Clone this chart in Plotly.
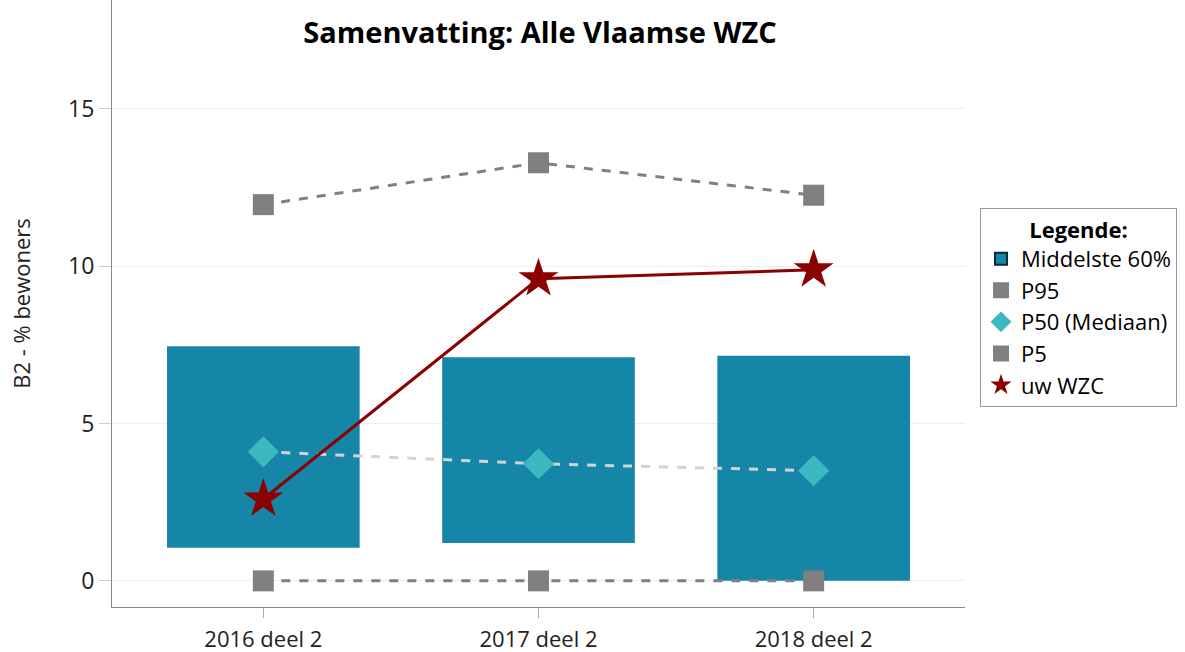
import plotly.graph_objects as go

periods = ["2016 deel 2", "2017 deel 2", "2018 deel 2"]
p5 = [0.0, 0.0, 0.0]
p20 = [1.05, 1.2, 0.0]
p80 = [7.45, 7.1, 7.15]
p50 = [4.1, 3.72, 3.5]
p95 = [11.95, 13.28, 12.25]
wzc = [2.6, 9.6, 9.88]

FONT = "Open Sans"
GREY = "#808080"
BLUE = "#1585a8"
TEAL = "#3bb8c0"
RED = "#8b0000"

fig = go.Figure()

# floating bars for the middle 60% (P20 - P80)
fig.add_trace(
    go.Bar(
        x=periods,
        y=[t - b for t, b in zip(p80, p20)],
        base=p20,
        width=0.7,
        marker=dict(color=BLUE, line_width=0),
        showlegend=False,
        hoverinfo="skip",
    )
)
# legend entry only (dark outline as in the original legend)
fig.add_trace(
    go.Bar(
        x=[periods[0]],
        y=[None],
        name="Middelste 60%",
        marker=dict(color=BLUE, line=dict(color="#0a2a3a", width=2)),
    )
)


def add_series(values, name, color, symbol, size, line):
    # line without legend, markers with legend
    fig.add_trace(
        go.Scatter(
            x=periods,
            y=values,
            mode="lines",
            line=line,
            showlegend=False,
            hoverinfo="skip",
        )
    )
    fig.add_trace(
        go.Scatter(
            x=periods,
            y=values,
            name=name,
            mode="markers",
            marker=dict(symbol=symbol, size=size, color=color),
        )
    )


add_series(p95, "P95", GREY, "square", 21, dict(color=GREY, width=3, dash="dash"))
add_series(p50, "P50 (Mediaan)", TEAL, "diamond", 24,
           dict(color="#d3d3d3", width=3, dash="dash"))
add_series(p5, "P5", GREY, "square", 21, dict(color=GREY, width=3, dash="dash"))
add_series(wzc, "uw WZC", RED, "star", 30, dict(color=RED, width=3))

fig.update_layout(
    width=1185,
    height=652,
    paper_bgcolor="white",
    plot_bgcolor="white",
    font=dict(family=FONT, size=22, color="#222222"),
    margin=dict(l=112, r=220, t=0, b=45, autoexpand=False),
    barmode="overlay",
    title=dict(
        text="<b>Samenvatting: Alle Vlaamse WZC</b>",
        x=540 / 1185,
        xanchor="center",
        y=1 - 33 / 652,
        yanchor="middle",
        font=dict(family=FONT, size=29, color="black"),
    ),
    legend=dict(
        title=dict(text="<b>Legende:</b>", font=dict(size=22, color="black"), side="top center"),
        font=dict(size=22, color="black"),
        xref="container",
        x=980 / 1185,
        xanchor="left",
        y=0.493,
        yanchor="middle",
        bordercolor="#999999",
        borderwidth=1,
        tracegroupgap=0,
        itemwidth=30,
    ),
    showlegend=True,
)

fig.update_xaxes(
    range=[-0.55, 2.55],
    showline=True,
    linecolor="#888888",
    ticks="outside",
    tickcolor="#aaaaaa",
    ticklen=10,
    ticklabelstandoff=3,
    showgrid=False,
    automargin=False,
    tickfont=dict(size=22),
)
fig.update_yaxes(
    range=[-0.83, 18.45],
    tickvals=[0, 5, 10, 15],
    showline=True,
    linecolor="#888888",
    ticks="outside",
    tickcolor="#cccccc",
    ticklen=12,
    showgrid=True,
    gridcolor="#eeeeee",
    gridwidth=1,
    zeroline=False,
    automargin=False,
    tickfont=dict(size=23),
    title=dict(text="B2 - % bewoners", font=dict(size=22), standoff=31),
)

fig.write_html("out.html", config={"displayModeBar": False})

# drop the browser's default body margin so the figure sits at 0,0
with open("out.html", encoding="utf-8") as f:
    html = f.read()
html = html.replace("<body>", '<body style="margin:0;overflow:hidden">', 1)
with open("out.html", "w", encoding="utf-8") as f:
    f.write(html)
